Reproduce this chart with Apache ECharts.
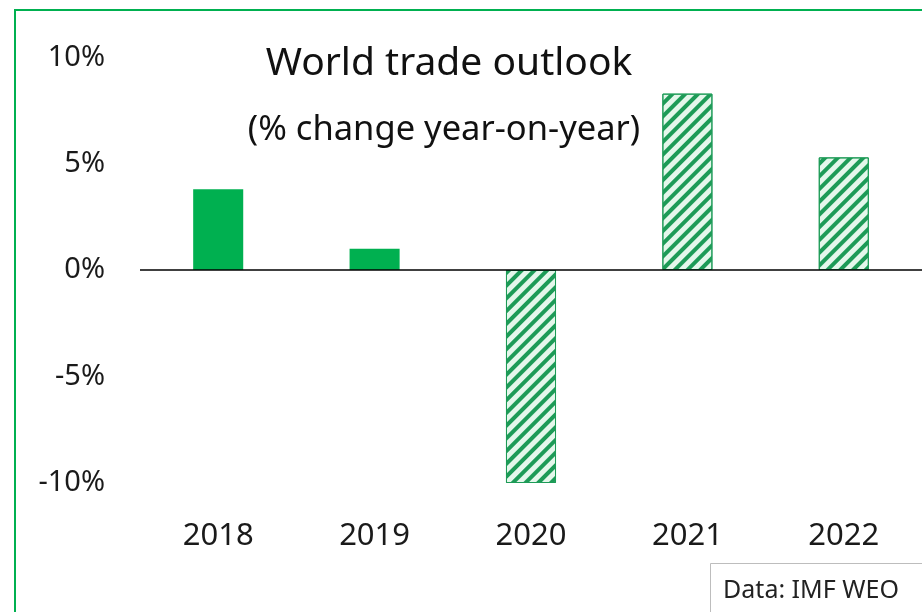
<!DOCTYPE html>
<html>
<head>
<meta charset="utf-8">
<title>World trade outlook</title>
<script src="https://cdn.jsdelivr.net/npm/echarts@6/dist/echarts.min.js"></script>
<style>
  html, body { margin: 0; padding: 0; background: #ffffff; }
  #chart { width: 922px; height: 612px; }
</style>
</head>
<body>
<div id="chart"></div>
<script>
// World trade volume, % change year-on-year (IMF WEO)
const years = ['2018', '2019', '2020', '2021', '2022'];
const tradeGrowth = [3.8, 1.0, -10.2, 8.3, 5.3];
// true = projection (hatched), false = outturn (solid)
const projected = [false, false, true, true, true];
const yTicks = [-10, -5, 0, 5, 10];

const FONT = '"Noto Sans", "Open Sans", sans-serif';
const SOLID_GREEN = '#00b050';
const HATCH_GREEN = '#1d9b57';

const barData = tradeGrowth.map((v, i) => {
  if (!projected[i]) {
    return { value: v, itemStyle: { color: SOLID_GREEN } };
  }
  return {
    value: v,
    itemStyle: {
      color: '#e4f7eb',
      borderColor: HATCH_GREEN,
      borderWidth: 1,
      decal: {
        symbol: 'rect',
        symbolSize: 1,
        color: HATCH_GREEN,
        dashArrayX: [1, 0],
        dashArrayY: [4, 5],
        rotation: -Math.PI / 4
      }
    }
  };
});

const chart = echarts.init(document.getElementById('chart'), null, { renderer: 'canvas' });
chart.setOption({
  backgroundColor: '#ffffff',
  animation: false,
  grid: { left: 140, right: 0, top: 57.5, bottom: 129.5, containLabel: false },
  xAxis: {
    type: 'category',
    data: years,
    position: 'bottom',
    axisLine: { show: false, onZero: false },
    axisTick: { show: false },
    axisLabel: {
      margin: 38,
      fontFamily: FONT,
      fontSize: 31,
      color: '#1a1a1a',
      lineHeight: 31
    },
    splitLine: { show: false }
  },
  yAxis: {
    type: 'value',
    min: yTicks[0],
    max: yTicks[yTicks.length - 1],
    interval: 5,
    axisLine: { show: false },
    axisTick: { show: false },
    splitLine: { show: false },
    axisLabel: {
      margin: 35,
      fontFamily: FONT,
      fontSize: 29,
      color: '#1a1a1a',
      formatter: v => v + '%'
    }
  },
  series: [{
    type: 'bar',
    data: barData,
    barWidth: '32%',
    silent: true,
    markLine: {
      silent: true,
      symbol: 'none',
      label: { show: false },
      lineStyle: { color: '#000000', width: 1.5, type: 'solid' },
      data: [{ yAxis: 0 }]
    }
  }],
  graphic: [
    {
      type: 'rect',
      shape: { x: 15, y: 10, width: 930, height: 620 },
      style: { fill: 'none', stroke: SOLID_GREEN, lineWidth: 2 },
      silent: true
    },
    {
      type: 'text',
      x: 449, y: 64,
      style: {
        text: 'World trade outlook',
        fontFamily: FONT, fontSize: 39, fill: '#111111',
        textAlign: 'center', textVerticalAlign: 'middle'
      }
    },
    {
      type: 'text',
      x: 444, y: 130,
      style: {
        text: '(% change year-on-year)',
        fontFamily: FONT, fontSize: 34.5, fill: '#111111',
        textAlign: 'center', textVerticalAlign: 'middle'
      }
    },
    {
      type: 'rect',
      shape: { x: 710.5, y: 563.5, width: 230, height: 60 },
      style: { fill: '#ffffff', stroke: '#bdbdbd', lineWidth: 1 },
      silent: true
    },
    {
      type: 'text',
      x: 811, y: 591,
      style: {
        text: 'Data: IMF WEO',
        fontFamily: FONT, fontSize: 25, fill: '#222222',
        textAlign: 'center', textVerticalAlign: 'middle'
      }
    }
  ]
});
</script>
</body>
</html>
